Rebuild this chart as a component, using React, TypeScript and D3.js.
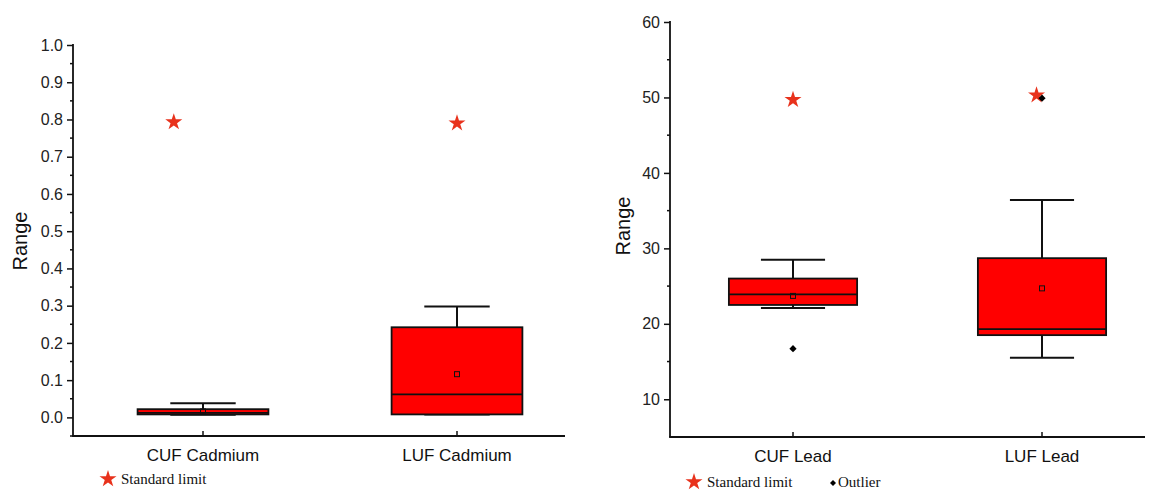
import React, { useEffect, useRef } from 'react';
import * as d3 from 'd3';

// cadmium panel
const cadmiumCategories = ['CUF Cadmium', 'LUF Cadmium'];
const cadmiumLow = [0.007, 0.008];
const cadmiumQ1 = [0.008, 0.008];
const cadmiumMedian = [0.012, 0.062];
const cadmiumQ3 = [0.022, 0.242];
const cadmiumHigh = [0.038, 0.298];
const cadmiumMean = [0.016, 0.116];
const cadmiumLimit = [0.793, 0.79];
const cadmiumLimitShift = [-0.115, 0];
const cadmiumOutliers: { cat: number; value: number }[] = [];
const cadmiumTicks = [0, 0.1, 0.2, 0.3, 0.4, 0.5, 0.6, 0.7, 0.8, 0.9, 1.0];

// lead panel
const leadCategories = ['CUF Lead', 'LUF Lead'];
const leadLow = [22.1, 15.5];
const leadQ1 = [22.5, 18.5];
const leadMedian = [23.9, 19.3];
const leadQ3 = [26.0, 28.7];
const leadHigh = [28.5, 36.4];
const leadMean = [23.7, 24.7];
const leadLimit = [49.7, 50.3];
const leadLimitShift = [0, -0.022];
const leadOutliers = [
  { cat: 0, value: 16.7 },
  { cat: 1, value: 49.9 },
];
const leadTicks = [10, 20, 30, 40, 50, 60];

const STAR = '#e8321c';
const BOX = '#ff0000';
const SANS = "'Liberation Sans', Arial, sans-serif";
const SERIF = "'Liberation Serif', 'Times New Roman', serif";

type Panel = {
  categories: string[];
  low: number[];
  q1: number[];
  median: number[];
  q3: number[];
  high: number[];
  mean: number[];
  limit: number[];
  limitShift: number[];
  outliers: { cat: number; value: number }[];
  ticks: number[];
  minorStep: number;
  domain: [number, number];
  format: (v: number) => string;
  left: number;
  right: number;
  top: number;
  bottom: number;
  catX: [number, number];
  titleX: number;
  titleY: number;
  legendX: number;
  legendY: number;
  showOutlierLegend: boolean;
};

const panels: Panel[] = [
  {
    categories: cadmiumCategories,
    low: cadmiumLow,
    q1: cadmiumQ1,
    median: cadmiumMedian,
    q3: cadmiumQ3,
    high: cadmiumHigh,
    mean: cadmiumMean,
    limit: cadmiumLimit,
    limitShift: cadmiumLimitShift,
    outliers: cadmiumOutliers,
    ticks: cadmiumTicks,
    minorStep: 0.05,
    domain: [-0.05, 1.0],
    format: d3.format('.1f'),
    left: 73,
    right: 565,
    top: 45,
    bottom: 436,
    catX: [203, 457],
    titleX: 20,
    titleY: 241,
    legendX: 108,
    legendY: 479,
    showOutlierLegend: false,
  },
  {
    categories: leadCategories,
    low: leadLow,
    q1: leadQ1,
    median: leadMedian,
    q3: leadQ3,
    high: leadHigh,
    mean: leadMean,
    limit: leadLimit,
    limitShift: leadLimitShift,
    outliers: leadOutliers,
    ticks: leadTicks,
    minorStep: 5,
    domain: [5, 60],
    format: d3.format('d'),
    left: 670,
    right: 1145,
    top: 22,
    bottom: 437,
    catX: [793, 1042],
    titleX: 623,
    titleY: 226,
    legendX: 694,
    legendY: 482,
    showOutlierLegend: true,
  },
];

// diamond drawn as a square turned by 45 degrees
const diamond = (size: number) => d3.symbol().type(d3.symbolSquare).size(size)();

function drawPanel(svg: d3.Selection<SVGSVGElement, unknown, null, undefined>, p: Panel) {
  const y = d3.scaleLinear().domain(p.domain).range([p.bottom, p.top]);
  const x = d3.scaleLinear().domain([0, 1]).range(p.catX);
  const boxW = 0.515 * (p.catX[1] - p.catX[0]);
  const capW = boxW / 2;
  const g = svg.append('g');

  // y axis
  const yAxis = g.append('g')
    .attr('transform', 'translate(' + p.left + ',0)')
    .call(d3.axisLeft(y).tickValues(p.ticks).tickFormat((d) => p.format(+d)).tickSize(6).tickPadding(4).tickSizeOuter(0));
  yAxis.select('.domain').remove();
  yAxis.selectAll('line').attr('stroke', '#111').attr('stroke-width', 1.5);
  yAxis.selectAll('text')
    .attr('font-family', SANS)
    .attr('font-size', 16)
    .attr('fill', '#222');

  const minor = d3.range(p.ticks[0] - p.minorStep, p.domain[1] + 1e-9, p.minorStep)
    .filter((v) => v >= p.domain[0] && !p.ticks.some((t) => Math.abs(t - v) < 1e-9))
    .filter((v) => v >= p.ticks[0] - p.minorStep + 1e-9 || p.domain[0] < 0);
  g.selectAll('.minor')
    .data(minor)
    .enter()
    .append('line')
    .attr('x1', p.left - 3)
    .attr('x2', p.left)
    .attr('y1', (d) => y(d))
    .attr('y2', (d) => y(d))
    .attr('stroke', '#111')
    .attr('stroke-width', 1.5);

  // axis lines
  g.append('line')
    .attr('x1', p.left).attr('x2', p.left)
    .attr('y1', y(p.domain[1]) - 1).attr('y2', p.bottom)
    .attr('stroke', '#111').attr('stroke-width', 1.8);
  g.append('line')
    .attr('x1', p.left - 0.9).attr('x2', p.right)
    .attr('y1', p.bottom).attr('y2', p.bottom)
    .attr('stroke', '#111').attr('stroke-width', 1.8);

  // category ticks + labels
  p.categories.forEach((c, i) => {
    g.append('line')
      .attr('x1', x(i)).attr('x2', x(i))
      .attr('y1', p.bottom).attr('y2', p.bottom - 5)
      .attr('stroke', '#111').attr('stroke-width', 1.5);
    g.append('text')
      .attr('x', x(i))
      .attr('y', p.bottom + 25)
      .attr('text-anchor', 'middle')
      .attr('font-family', SANS)
      .attr('font-size', 17)
      .attr('fill', '#111')
      .text(c);
  });

  // y title
  g.append('text')
    .attr('transform', 'translate(' + (p.titleX + 7) + ',' + p.titleY + ') rotate(-90)')
    .attr('text-anchor', 'middle')
    .attr('font-family', SANS)
    .attr('font-size', 20)
    .attr('fill', '#111')
    .text('Range');

  // boxes
  p.categories.forEach((_, i) => {
    const cx = x(i);
    g.append('line')
      .attr('x1', cx).attr('x2', cx)
      .attr('y1', y(p.high[i])).attr('y2', y(p.low[i]))
      .attr('stroke', '#111').attr('stroke-width', 2);
    [p.high[i], p.low[i]].forEach((v) => {
      g.append('line')
        .attr('x1', cx - capW / 2).attr('x2', cx + capW / 2)
        .attr('y1', y(v)).attr('y2', y(v))
        .attr('stroke', '#111').attr('stroke-width', 2);
    });
    g.append('rect')
      .attr('x', cx - boxW / 2)
      .attr('y', y(p.q3[i]))
      .attr('width', boxW)
      .attr('height', y(p.q1[i]) - y(p.q3[i]))
      .attr('fill', BOX)
      .attr('stroke', '#111')
      .attr('stroke-width', 1.8);
    g.append('line')
      .attr('x1', cx - boxW / 2).attr('x2', cx + boxW / 2)
      .attr('y1', y(p.median[i])).attr('y2', y(p.median[i]))
      .attr('stroke', '#111').attr('stroke-width', 1.8);
    g.append('rect')
      .attr('x', cx - 2.5)
      .attr('y', y(p.mean[i]) - 2.5)
      .attr('width', 5)
      .attr('height', 5)
      .attr('fill', 'none')
      .attr('stroke', '#111')
      .attr('stroke-width', 1);
  });

  // standard limit stars
  g.selectAll('.star')
    .data(p.limit)
    .enter()
    .append('path')
    .attr('d', d3.symbol().type(d3.symbolStar).size(90)())
    .attr('transform', (d, i) => 'translate(' + x(i + p.limitShift[i]) + ',' + y(d) + ')')
    .attr('fill', STAR);

  // outliers
  g.selectAll('.outlier')
    .data(p.outliers)
    .enter()
    .append('path')
    .attr('d', diamond(26))
    .attr('transform', (d) => 'translate(' + x(d.cat) + ',' + y(d.value) + ') rotate(45)')
    .attr('fill', '#000');

  // legend
  const lg = g.append('g').attr('transform', 'translate(' + p.legendX + ',' + p.legendY + ')');
  lg.append('path')
    .attr('d', d3.symbol().type(d3.symbolStar).size(90)())
    .attr('fill', STAR);
  lg.append('text')
    .attr('x', 13)
    .attr('y', 5)
    .attr('font-family', SERIF)
    .attr('font-size', 15)
    .attr('fill', '#111')
    .text('Standard limit');
  if (p.showOutlierLegend) {
    lg.append('path')
      .attr('d', diamond(18))
      .attr('transform', 'translate(139,1) rotate(45)')
      .attr('fill', '#000');
    lg.append('text')
      .attr('x', 144)
      .attr('y', 5)
      .attr('font-family', SERIF)
      .attr('font-size', 15)
      .attr('fill', '#111')
      .text('Outlier');
  }
}

export default function App() {
  const ref = useRef<SVGSVGElement>(null);

  useEffect(() => {
    const svg = d3.select(ref.current as SVGSVGElement);
    svg.selectAll('*').remove();
    panels.forEach((p) => drawPanel(svg, p));
  }, []);

  return (
    <div style={{ position: 'absolute', left: 0, top: 0 }}>
      <svg ref={ref} width={1150} height={490} style={{ display: 'block', background: '#fff' }} />
    </div>
  );
}
